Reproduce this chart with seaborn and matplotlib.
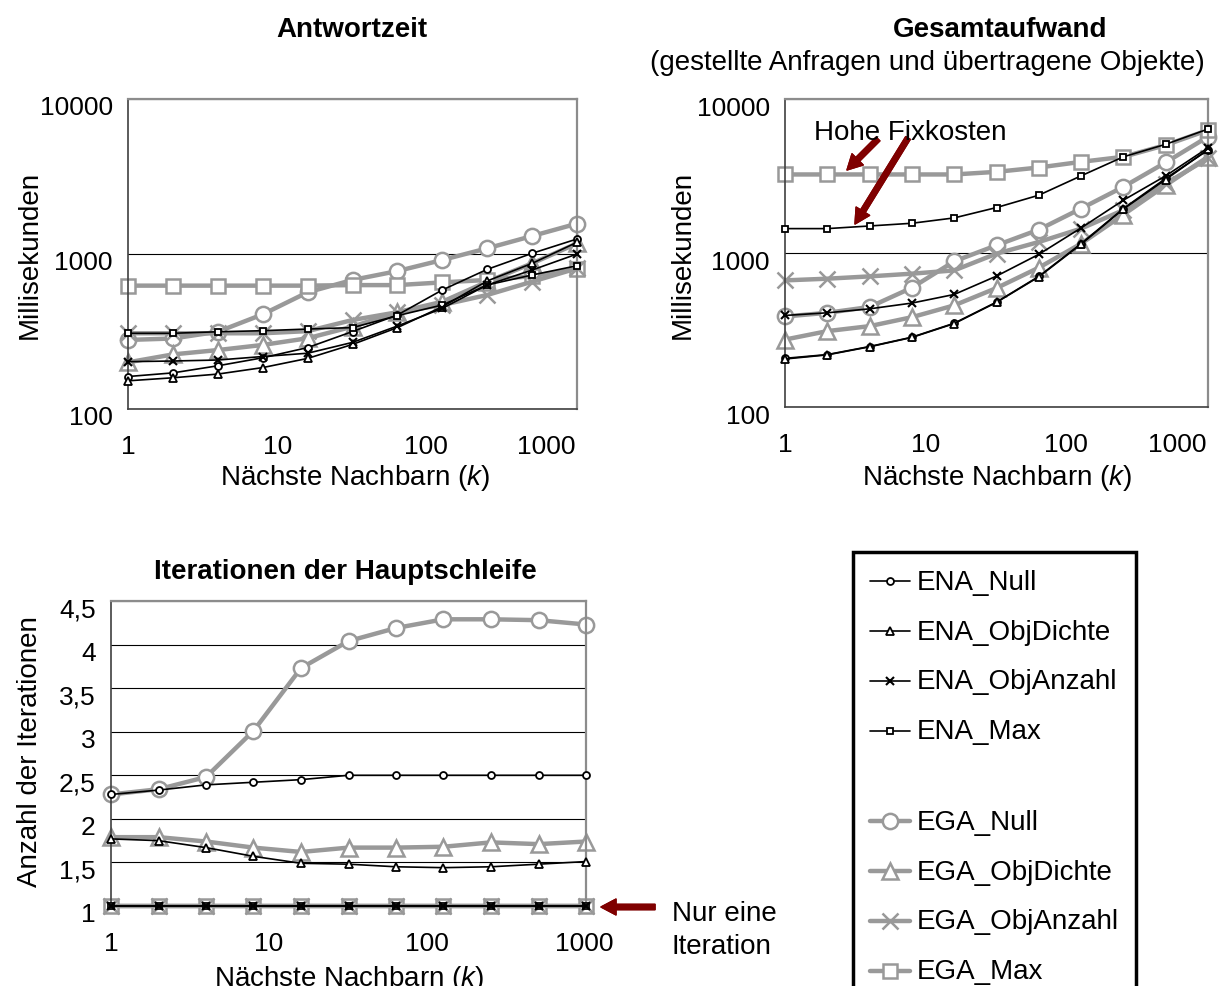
import matplotlib
matplotlib.use("Agg")
import matplotlib.pyplot as plt
import matplotlib.transforms as mtransforms
import seaborn as sns
from matplotlib.lines import Line2D
from matplotlib.ticker import NullLocator

# canvas in pixels (dpi 100)
W, H = 1219, 987

GRAY = "#999999"
DARK_RED = "#7F0000"

# --- data -------------------------------------------------------------------
K = [1, 2, 4, 8, 16, 32, 64, 128, 256, 512, 1024]

SERIES = ["ENA_Null", "ENA_ObjDichte", "ENA_ObjAnzahl", "ENA_Max",
          "EGA_Null", "EGA_ObjDichte", "EGA_ObjAnzahl", "EGA_Max"]

# Antwortzeit (ms)
resp_ena_null = [162, 171, 190, 214, 249, 316, 404, 586, 796, 1010, 1250]
resp_ena_objdichte = [152, 159, 168, 185, 212, 261, 335, 457, 670, 870, 1190]
resp_ena_objanzahl = [202, 204, 207, 218, 229, 269, 343, 446, 631, 788, 1000]
resp_ena_max = [308, 308, 315, 320, 328, 335, 400, 469, 631, 732, 840]
resp_ega_null = [279, 285, 315, 408, 566, 680, 776, 915, 1088, 1306, 1570]
resp_ega_objdichte = [200, 225, 240, 259, 286, 340, 421, 492, 663, 870, 1170]
resp_ega_objanzahl = [308, 308, 308, 308, 318, 375, 421, 469, 544, 663, 808]
resp_ega_max = [625, 625, 625, 625, 625, 630, 630, 656, 680, 720, 800]

# Gesamtaufwand (ms)
cost_ena_null = [207, 219, 247, 284, 350, 480, 705, 1150, 1944, 3050, 4660]
cost_ena_objdichte = [205, 218, 246, 283, 348, 478, 700, 1140, 1930, 3000, 4700]
cost_ena_objanzahl = [393, 409, 434, 473, 538, 708, 980, 1455, 2203, 3170, 4820]
cost_ena_max = [1440, 1440, 1498, 1560, 1690, 1973, 2373, 3170, 4213, 5080, 6380]
cost_ega_null = [387, 409, 446, 595, 883, 1122, 1418, 1944, 2690, 3873, 5690]
cost_ega_objdichte = [274, 311, 335, 383, 457, 592, 803, 1150, 1775, 2754, 4215]
cost_ega_objanzahl = [664, 681, 705, 734, 771, 990, 1179, 1440, 1900, 2826, 4110]
cost_ega_max = [3236, 3236, 3236, 3236, 3236, 3365, 3590, 3908, 4213, 5023, 6280]

# Iterationen der Hauptschleife
it_ena_null = [2.28, 2.33, 2.39, 2.42, 2.45, 2.5, 2.5, 2.5, 2.5, 2.5, 2.5]
it_ena_objdichte = [1.77, 1.75, 1.67, 1.57, 1.49, 1.48, 1.45, 1.44, 1.45, 1.48, 1.51]
it_ena_objanzahl = [1, 1, 1, 1, 1, 1, 1, 1, 1, 1, 1]
it_ena_max = [1, 1, 1, 1, 1, 1, 1, 1, 1, 1, 1]
it_ega_null = [2.28, 2.34, 2.48, 3.01, 3.73, 4.04, 4.19, 4.29, 4.29, 4.28, 4.23]
it_ega_objdichte = [1.79, 1.79, 1.74, 1.67, 1.62, 1.67, 1.67, 1.68, 1.73, 1.71, 1.74]
it_ega_objanzahl = [1, 1, 1, 1, 1, 1, 1, 1, 1, 1, 1]
it_ega_max = [1, 1, 1, 1, 1, 1, 1, 1, 1, 1, 1]

LOG_XTICKS = [1, 10, 100, 1000]
LOG_YTICKS = [100, 1000, 10000]
IT_YTICKS = [1, 1.5, 2, 2.5, 3, 3.5, 4, 4.5]
IT_YTICKLABELS = ["1", "1,5", "2", "2,5", "3", "3,5", "4", "4,5"]

# --- styles -----------------------------------------------------------------
ENA = dict(color="black", linewidth=1.2, markerfacecolor="white",
           markeredgecolor="black", markeredgewidth=1.3)
EGA = dict(color=GRAY, linewidth=3.2, markerfacecolor="white",
           markeredgecolor=GRAY, markeredgewidth=1.8)
STYLE = {
    "ENA_Null": dict(ENA, marker="o", markersize=5),
    "ENA_ObjDichte": dict(ENA, marker="^", markersize=5.5),
    "ENA_ObjAnzahl": dict(ENA, marker="x", markersize=6, markeredgewidth=1.5),
    "ENA_Max": dict(ENA, marker="s", markersize=4.5),
    "EGA_Null": dict(EGA, marker="o", markersize=11),
    "EGA_ObjDichte": dict(EGA, marker="^", markersize=12),
    "EGA_ObjAnzahl": dict(EGA, marker="x", markersize=11),
    "EGA_Max": dict(EGA, marker="s", markersize=10),
}
# gray EGA lines below, black ENA lines on top
DRAW_ORDER = ["EGA_Null", "EGA_ObjDichte", "EGA_Max", "EGA_ObjAnzahl",
              "ENA_Null", "ENA_ObjDichte", "ENA_Max", "ENA_ObjAnzahl"]

TICK_FS = 19
TEXT_FS = 20


def fig_xy(x_px, y_px):
    return x_px / W, 1 - y_px / H


def make_axes(fig, left, top, right, bottom):
    ax = fig.add_axes([left / W, 1 - bottom / H, (right - left) / W, (bottom - top) / H])
    ax.box_px = (left, top, right, bottom)
    return ax


def ax_xy(ax, x_px, y_px):
    left, top, right, bottom = ax.box_px
    return (x_px - left) / (right - left), (bottom - y_px) / (bottom - top)


def draw_series(ax, values):
    for name in DRAW_ORDER:
        sns.lineplot(x=K, y=values[name], ax=ax, legend=False, clip_on=False,
                     zorder=3 if name.startswith("ENA") else 2, **STYLE[name])


def style_panel(ax, shift_last_xlabel):
    ax.set_xscale("log")
    ax.set_xlim(1, 1024)
    ax.set_xticks(LOG_XTICKS, [str(t) for t in LOG_XTICKS])
    ax.xaxis.set_minor_locator(NullLocator())
    ax.yaxis.set_minor_locator(NullLocator())
    ax.grid(True, axis="y", color="black", linewidth=0.8)
    ax.grid(False, axis="x")
    ax.set_axisbelow(True)
    for side in ["left", "bottom"]:
        ax.spines[side].set_color("#404040")
        ax.spines[side].set_linewidth(1.2)
    for side in ["top", "right"]:
        ax.spines[side].set_color("#8C8C8C")
        ax.spines[side].set_linewidth(1.6)
    ax.tick_params(axis="both", direction="out", length=5, width=1.0,
                   color="#404040", labelsize=TICK_FS, labelcolor="black")
    ax.tick_params(axis="x", pad=13)
    ax.tick_params(axis="y", pad=6)
    # Excel draws the value labels a little below their tick
    down = mtransforms.ScaledTranslation(0, -6 / 100, ax.figure.dpi_scale_trans)
    for label in ax.get_yticklabels():
        label.set_transform(label.get_transform() + down)
    if shift_last_xlabel:
        ax.get_xticklabels()[-1].set_horizontalalignment("right")


def set_labels(ax, xlabel_pos, ylabel, ylabel_pos):
    ax.set_xlabel("Nächste Nachbarn ($\\mathit{k}$)", fontsize=TEXT_FS)
    ax.xaxis.label.set_verticalalignment("center")
    ax.xaxis.set_label_coords(*ax_xy(ax, *xlabel_pos))
    ax.set_ylabel(ylabel, fontsize=TEXT_FS)
    ax.yaxis.label.set_verticalalignment("center")
    ax.yaxis.set_label_coords(*ax_xy(ax, *ylabel_pos))


sns.set_theme(style="white")
plt.rcParams["font.family"] = ["Liberation Sans", "DejaVu Sans"]
plt.rcParams["mathtext.fontset"] = "custom"
plt.rcParams["mathtext.rm"] = "Liberation Sans"
plt.rcParams["mathtext.it"] = "Liberation Sans:italic"
plt.rcParams["text.color"] = "black"
plt.rcParams["axes.labelcolor"] = "black"

fig = plt.figure(figsize=(W / 100, H / 100), dpi=100, facecolor="white")

# --- Antwortzeit ------------------------------------------------------------
ax1 = make_axes(fig, 128, 100, 577, 410)
draw_series(ax1, dict(zip(SERIES, [resp_ena_null, resp_ena_objdichte, resp_ena_objanzahl,
                                   resp_ena_max, resp_ega_null, resp_ega_objdichte,
                                   resp_ega_objanzahl, resp_ega_max])))
ax1.set_yscale("log")
ax1.set_ylim(100, 10000)
ax1.set_yticks(LOG_YTICKS, [str(t) for t in LOG_YTICKS])
style_panel(ax1, shift_last_xlabel=True)
set_labels(ax1, (355, 478), "Millisekunden", (30, 255))

# --- Gesamtaufwand ----------------------------------------------------------
ax2 = make_axes(fig, 785, 100, 1208, 408)
draw_series(ax2, dict(zip(SERIES, [cost_ena_null, cost_ena_objdichte, cost_ena_objanzahl,
                                   cost_ena_max, cost_ega_null, cost_ega_objdichte,
                                   cost_ega_objanzahl, cost_ega_max])))
ax2.set_yscale("log")
ax2.set_ylim(100, 10000)
ax2.set_yticks(LOG_YTICKS, [str(t) for t in LOG_YTICKS])
style_panel(ax2, shift_last_xlabel=True)
set_labels(ax2, (997, 478), "Millisekunden", (683, 255))

# --- Iterationen ------------------------------------------------------------
ax3 = make_axes(fig, 111, 602, 586, 907)
draw_series(ax3, dict(zip(SERIES, [it_ena_null, it_ena_objdichte, it_ena_objanzahl,
                                   it_ena_max, it_ega_null, it_ega_objdichte,
                                   it_ega_objanzahl, it_ega_max])))
ax3.set_ylim(1, 4.5)
ax3.set_yticks(IT_YTICKS, IT_YTICKLABELS)
style_panel(ax3, shift_last_xlabel=False)
set_labels(ax3, (349, 979), "Anzahl der Iterationen", (30, 752))

# --- titles -----------------------------------------------------------------
fig.text(*fig_xy(352, 30), "Antwortzeit", ha="center", va="center",
         fontsize=TEXT_FS, fontweight="bold")
fig.text(*fig_xy(1000, 30), "Gesamtaufwand", ha="center", va="center",
         fontsize=TEXT_FS, fontweight="bold")
fig.text(*fig_xy(927, 63), "(gestellte Anfragen und übertragene Objekte)",
         ha="center", va="center", fontsize=TEXT_FS)
fig.text(*fig_xy(345, 572), "Iterationen der Hauptschleife", ha="center",
         va="center", fontsize=TEXT_FS, fontweight="bold")

# --- annotations ------------------------------------------------------------
arrow = dict(arrowstyle="simple,head_length=0.9,head_width=0.95,tail_width=0.32",
             color=DARK_RED, mutation_scale=12, shrinkA=0, shrinkB=0)
fig.text(*fig_xy(910, 133), "Hohe Fixkosten", ha="center", va="center", fontsize=TEXT_FS)
fig.add_artist(plt.annotate("", xy=fig_xy(847, 171), xytext=fig_xy(878, 140),
                            xycoords="figure fraction", arrowprops=arrow))
fig.add_artist(plt.annotate("", xy=fig_xy(855, 225), xytext=fig_xy(908, 139),
                            xycoords="figure fraction", arrowprops=arrow))
fig.add_artist(plt.annotate("", xy=fig_xy(601, 908), xytext=fig_xy(655, 908),
                            xycoords="figure fraction", arrowprops=arrow))
fig.text(*fig_xy(672, 914), "Nur eine", ha="left", va="center", fontsize=TEXT_FS)
fig.text(*fig_xy(672, 947), "Iteration", ha="left", va="center", fontsize=TEXT_FS)

# --- legend -----------------------------------------------------------------
handles, labels = [], []
for name in SERIES:
    if name == "EGA_Null":
        handles.append(Line2D([], [], linestyle="none"))
        labels.append(" ")
    handles.append(Line2D([], [], **STYLE[name]))
    labels.append(name)
leg = fig.legend(handles, labels, loc="upper left", bbox_to_anchor=fig_xy(853, 553),
                 bbox_transform=fig.transFigure, frameon=True, fancybox=False,
                 framealpha=1, edgecolor="black", fontsize=TEXT_FS, borderpad=0.6,
                 handlelength=1.45, handletextpad=0.25, labelspacing=0.86,
                 handleheight=0.23, borderaxespad=0)
leg.get_frame().set_linewidth(2.5)
# the spacer row between the two groups is shorter than a normal row
leg.get_texts()[4].set_fontsize(4)

fig.savefig("out.png", dpi=100, facecolor="white")
